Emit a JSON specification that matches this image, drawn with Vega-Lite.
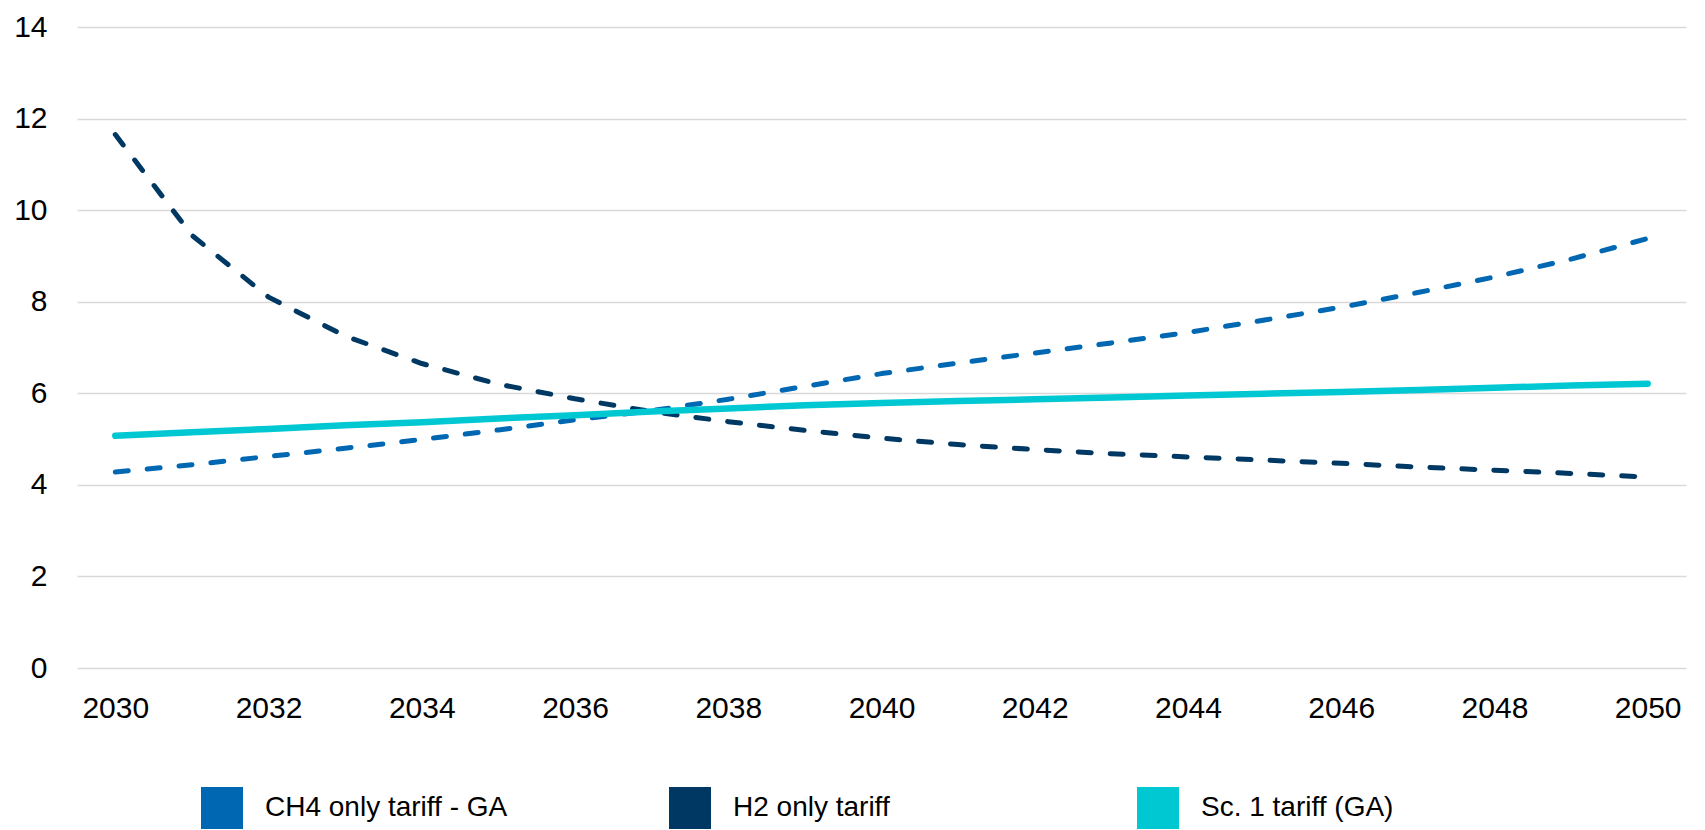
{
  "$schema": "https://vega.github.io/schema/vega-lite/v6.json",
  "autosize": "none",
  "padding": {"left": 77, "top": 27, "right": 19, "bottom": 162},
  "width": 1609,
  "height": 641,
  "background": "white",
  "config": {
    "view": {"stroke": null},
    "font": "Liberation Sans",
    "axis": {"labelFont": "Liberation Sans", "labelColor": "#000000"}
  },
  "data": {
    "values": [
      {"series": "CH4 only tariff - GA", "year": 2030, "value": 4.28},
      {"series": "CH4 only tariff - GA", "year": 2031, "value": 4.44},
      {"series": "CH4 only tariff - GA", "year": 2032, "value": 4.62},
      {"series": "CH4 only tariff - GA", "year": 2033, "value": 4.80},
      {"series": "CH4 only tariff - GA", "year": 2034, "value": 4.99},
      {"series": "CH4 only tariff - GA", "year": 2035, "value": 5.20},
      {"series": "CH4 only tariff - GA", "year": 2036, "value": 5.42},
      {"series": "CH4 only tariff - GA", "year": 2037, "value": 5.62},
      {"series": "CH4 only tariff - GA", "year": 2038, "value": 5.87},
      {"series": "CH4 only tariff - GA", "year": 2039, "value": 6.15},
      {"series": "CH4 only tariff - GA", "year": 2040, "value": 6.43},
      {"series": "CH4 only tariff - GA", "year": 2041, "value": 6.66},
      {"series": "CH4 only tariff - GA", "year": 2042, "value": 6.88},
      {"series": "CH4 only tariff - GA", "year": 2043, "value": 7.10},
      {"series": "CH4 only tariff - GA", "year": 2044, "value": 7.33},
      {"series": "CH4 only tariff - GA", "year": 2045, "value": 7.60},
      {"series": "CH4 only tariff - GA", "year": 2046, "value": 7.88},
      {"series": "CH4 only tariff - GA", "year": 2047, "value": 8.20},
      {"series": "CH4 only tariff - GA", "year": 2048, "value": 8.54},
      {"series": "CH4 only tariff - GA", "year": 2049, "value": 8.93},
      {"series": "CH4 only tariff - GA", "year": 2050, "value": 9.38},
      {"series": "H2 only tariff", "year": 2030, "value": 11.65},
      {"series": "H2 only tariff", "year": 2031, "value": 9.45},
      {"series": "H2 only tariff", "year": 2032, "value": 8.10},
      {"series": "H2 only tariff", "year": 2033, "value": 7.25},
      {"series": "H2 only tariff", "year": 2034, "value": 6.65},
      {"series": "H2 only tariff", "year": 2035, "value": 6.20},
      {"series": "H2 only tariff", "year": 2036, "value": 5.88},
      {"series": "H2 only tariff", "year": 2037, "value": 5.60},
      {"series": "H2 only tariff", "year": 2038, "value": 5.38},
      {"series": "H2 only tariff", "year": 2039, "value": 5.19},
      {"series": "H2 only tariff", "year": 2040, "value": 5.02},
      {"series": "H2 only tariff", "year": 2041, "value": 4.88},
      {"series": "H2 only tariff", "year": 2042, "value": 4.77},
      {"series": "H2 only tariff", "year": 2043, "value": 4.68},
      {"series": "H2 only tariff", "year": 2044, "value": 4.61},
      {"series": "H2 only tariff", "year": 2045, "value": 4.54},
      {"series": "H2 only tariff", "year": 2046, "value": 4.47},
      {"series": "H2 only tariff", "year": 2047, "value": 4.39},
      {"series": "H2 only tariff", "year": 2048, "value": 4.32},
      {"series": "H2 only tariff", "year": 2049, "value": 4.25},
      {"series": "H2 only tariff", "year": 2050, "value": 4.17},
      {"series": "Sc. 1 tariff (GA)", "year": 2030, "value": 5.07},
      {"series": "Sc. 1 tariff (GA)", "year": 2031, "value": 5.15},
      {"series": "Sc. 1 tariff (GA)", "year": 2032, "value": 5.22},
      {"series": "Sc. 1 tariff (GA)", "year": 2033, "value": 5.30},
      {"series": "Sc. 1 tariff (GA)", "year": 2034, "value": 5.37},
      {"series": "Sc. 1 tariff (GA)", "year": 2035, "value": 5.45},
      {"series": "Sc. 1 tariff (GA)", "year": 2036, "value": 5.52},
      {"series": "Sc. 1 tariff (GA)", "year": 2037, "value": 5.60},
      {"series": "Sc. 1 tariff (GA)", "year": 2038, "value": 5.67},
      {"series": "Sc. 1 tariff (GA)", "year": 2039, "value": 5.74},
      {"series": "Sc. 1 tariff (GA)", "year": 2040, "value": 5.79},
      {"series": "Sc. 1 tariff (GA)", "year": 2041, "value": 5.83},
      {"series": "Sc. 1 tariff (GA)", "year": 2042, "value": 5.87},
      {"series": "Sc. 1 tariff (GA)", "year": 2043, "value": 5.91},
      {"series": "Sc. 1 tariff (GA)", "year": 2044, "value": 5.95},
      {"series": "Sc. 1 tariff (GA)", "year": 2045, "value": 5.99},
      {"series": "Sc. 1 tariff (GA)", "year": 2046, "value": 6.03},
      {"series": "Sc. 1 tariff (GA)", "year": 2047, "value": 6.07},
      {"series": "Sc. 1 tariff (GA)", "year": 2048, "value": 6.12},
      {"series": "Sc. 1 tariff (GA)", "year": 2049, "value": 6.17},
      {"series": "Sc. 1 tariff (GA)", "year": 2050, "value": 6.21}
    ]
  },
  "encoding": {
    "x": {
      "field": "year",
      "type": "quantitative",
      "scale": {"domain": [2029.5, 2050.5], "nice": false, "zero": false},
      "axis": {
        "title": null,
        "values": [2030, 2032, 2034, 2036, 2038, 2040, 2042, 2044, 2046, 2048, 2050],
        "format": "d",
        "grid": false,
        "domain": false,
        "ticks": false,
        "labelFontSize": 30,
        "labelPadding": 25,
        "labelFlush": false
      }
    },
    "y": {
      "field": "value",
      "type": "quantitative",
      "scale": {"domain": [0, 14], "nice": false},
      "axis": {
        "title": null,
        "values": [0, 2, 4, 6, 8, 10, 12, 14],
        "grid": true,
        "gridColor": "#D9D9D9",
        "gridWidth": 1.7,
        "domain": false,
        "ticks": false,
        "labelFontSize": 30,
        "labelPadding": 30
      }
    },
    "color": {
      "field": "series",
      "type": "nominal",
      "scale": {
        "domain": ["CH4 only tariff - GA", "H2 only tariff", "Sc. 1 tariff (GA)"],
        "range": ["#0067B2", "#003864", "#00C8D2"]
      },
      "legend": {
        "title": null,
        "orient": "none",
        "legendX": 124,
        "legendY": 760,
        "direction": "horizontal",
        "columns": 3,
        "gridAlign": "all",
        "columnPadding": 161,
        "symbolType": "square",
        "symbolSize": 1764,
        "symbolStrokeWidth": 0,
        "labelFontSize": 28,
        "labelFont": "Liberation Sans",
        "labelColor": "#000000",
        "labelOffset": 22,
        "labelLimit": 600,
        "encode": {
          "symbols": {"update": {"fill": {"scale": "color", "field": "value"}, "fillOpacity": {"value": 1}}}
        }
      }
    }
  },
  "layer": [
    {
      "transform": [{"filter": "datum.series !== 'Sc. 1 tariff (GA)'"}],
      "mark": {"type": "line", "strokeWidth": 5, "strokeCap": "round", "strokeJoin": "round", "strokeDash": [13, 19]}
    },
    {
      "transform": [{"filter": "datum.series === 'Sc. 1 tariff (GA)'"}],
      "mark": {"type": "line", "strokeWidth": 6.5, "strokeCap": "round", "strokeJoin": "round"}
    }
  ]
}
